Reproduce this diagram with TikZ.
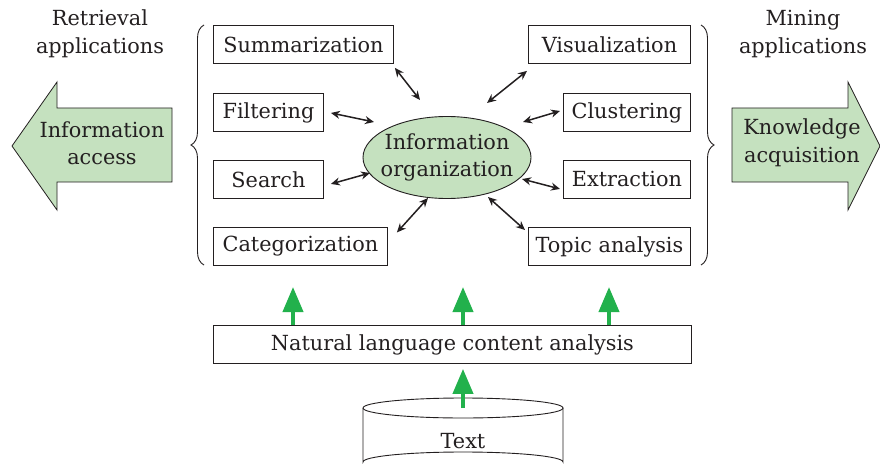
\documentclass[tikz,border=0pt]{standalone}
\usepackage{fontspec}
\setmainfont{DejaVu Serif}
\usetikzlibrary{decorations.pathreplacing,arrows.meta,calc,shapes.geometric}

\definecolor{paleGreen}{HTML}{C5E1BF}
\definecolor{arrowGreen}{HTML}{22B14C}
\definecolor{inkGray}{HTML}{231F20}

\newcommand{\labelfont}{\fontsize{20.8}{27.5}\selectfont}

\begin{document}
\begin{tikzpicture}[x=1pt,y=-1pt,
  every node/.style={text=inkGray},
  box/.style={draw=inkGray, line width=0.9pt, anchor=north west,
              minimum height=38pt, inner sep=0pt, font=\labelfont},
  dbl/.style={{Stealth[length=9pt,width=8pt]}-{Stealth[length=9pt,width=8pt]},
              line width=1.5pt, draw=inkGray},
  garrow/.style={-{Triangle[length=25pt,width=20pt]}, line width=4pt, draw=arrowGreen},
  bigarrow/.style={draw=inkGray, line width=0.8pt, fill=paleGreen, line join=miter},
  brace/.style={decorate, draw=inkGray, line width=0.9pt,
                decoration={brace, amplitude=13pt}},
  caption/.style={font=\labelfont, align=center}
]
\useasboundingbox (0,0) rectangle (880,468);

% side captions
\node[caption] (retr) at (100,34) {Retrieval\\applications};
\node[caption] (mine) at (803,34) {Mining\\applications};

% big block arrows
\draw[bigarrow] (12,146) -- (57,82) -- (57,108) -- (172,108) -- (172,182)
  -- (57,182) -- (57,210) -- cycle;
\node[caption] (access) at (102,143) {Information\\access};
\draw[bigarrow] (880,146) -- (848,82) -- (848,108) -- (732,108) -- (732,182)
  -- (848,182) -- (848,210) -- cycle;
\node[caption] (know) at (802,143) {Knowledge\\acquisition};

% braces grouping the applications
\draw[brace] (204,265) -- (204,25);
\draw[brace] (701,25) -- (701,265);

% application boxes
\node[box, minimum width=180pt] (summ)  at (213,25)  {Summarization};
\node[box, minimum width=110pt] (filt)  at (213,93)  {Filtering};
\node[box, minimum width=110pt] (srch)  at (213,160) {Search};
\node[box, minimum width=174pt] (cat)   at (213,227) {Categorization};
\node[box, minimum width=162pt] (vis)   at (528,25)  {Visualization};
\node[box, minimum width=127pt] (clus)  at (563,93)  {Clustering};
\node[box, minimum width=127pt] (extr)  at (563,160) {Extraction};
\node[box, minimum width=162pt] (topic) at (528,227) {Topic analysis};

% central ellipse with its label
\draw[draw=inkGray, line width=0.9pt, fill=paleGreen]
  (447,157.5) ellipse [x radius=84, y radius=41];
\node[font=\labelfont, align=center, inner sep=0pt] (org) at (447,157.5)
      {Information\\organization};

% links between the applications and the organization step
\draw[dbl] ([shift={(1,4)}]summ.south east)   -- ([shift={(-27,-57.5)}]org.center);
\draw[dbl] ([shift={(7,0.5)}]filt.east)       -- ([shift={(-73,-35.5)}]org.center);
\draw[dbl] ([shift={(7,4.5)}]srch.east)       -- ([shift={(-77,15.5)}]org.center);
\draw[dbl] ([shift={(9,-14)}]cat.east)        -- ([shift={(-19,40.5)}]org.center);
\draw[dbl] ([shift={(-1,7)}]vis.south west)   -- ([shift={(40,-54.5)}]org.center);
\draw[dbl] ([shift={(-3,-1.5)}]clus.west)     -- ([shift={(76,-35.5)}]org.center);
\draw[dbl] ([shift={(-3,9.5)}]extr.west)      -- ([shift={(75,21.5)}]org.center);
\draw[dbl] ([shift={(-3,3)}]topic.north west) -- ([shift={(41,39.5)}]org.center);

% content analysis layer
\node[box, minimum width=478pt] (nl) at (213,325) {Natural language content analysis};

\coordinate (g1) at (293,287);
\coordinate (g2) at (463,287);
\coordinate (g3) at (609,287);
\draw[garrow] (nl.north -| g1) -- (g1);
\draw[garrow] (nl.north -| g2) -- (g2);
\draw[garrow] (nl.north -| g3) -- (g3);

% text store (cylinder)
\draw[draw=inkGray, line width=0.9pt] (463,408) ellipse [x radius=100, y radius=10];
\draw[draw=inkGray, line width=0.9pt] (363,408) -- (363,462)
  arc[start angle=180, end angle=360, x radius=100, y radius=10] -- (563,408);
\coordinate (cyl) at (463,408);
\node[font=\labelfont] (txt) at (463,441) {Text};
\draw[garrow] (cyl) -- ([yshift=-5pt]nl.south -| cyl);
\end{tikzpicture}
\end{document}
